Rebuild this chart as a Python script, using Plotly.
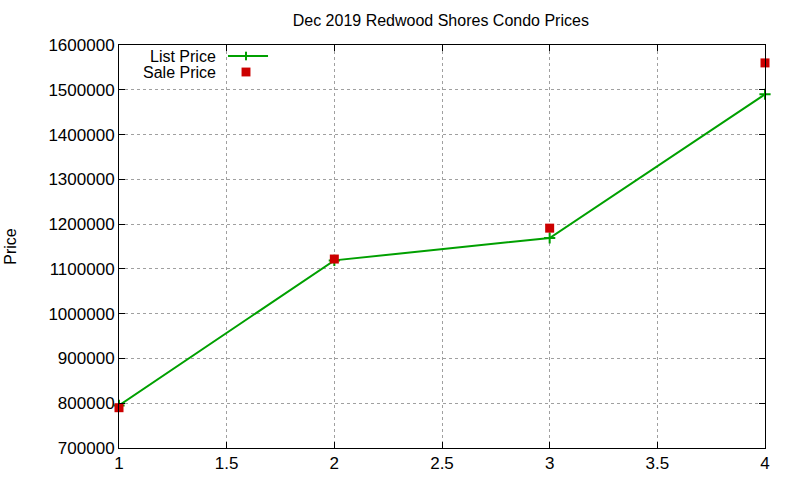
import plotly.graph_objects as go

# Dec 2019 Redwood Shores condos
units = [1, 2, 3, 4]
list_price = [795000, 1119000, 1169000, 1490000]
sale_price = [790000, 1122000, 1191000, 1560000]

x_ticks = [1, 1.5, 2, 2.5, 3, 3.5, 4]
y_ticks = list(range(700000, 1600001, 100000))

green = "#00a000"
red = "#cc0000"
font = "Liberation Sans, Arial, sans-serif"

fig = go.Figure()
fig.add_trace(go.Scatter(x=units, y=list_price, mode="lines+markers", name="List Price",
                         line=dict(color=green, width=2),
                         marker=dict(symbol="cross-thin", size=8, line=dict(color=green, width=2)),
                         cliponaxis=False, showlegend=False))
fig.add_trace(go.Scatter(x=units, y=sale_price, mode="markers", name="Sale Price",
                         marker=dict(symbol="square", size=9, color=red),
                         cliponaxis=False, showlegend=False))

axis = dict(showline=True, linecolor="black", linewidth=1, mirror="ticks",
            ticks="inside", ticklen=6, tickcolor="black",
            showgrid=True, gridcolor="#a0a0a0", griddash="dot", gridwidth=1,
            zeroline=False, automargin=False, tickfont=dict(size=17, color="black"))

fig.update_xaxes(range=[1, 4], tickvals=x_ticks, ticktext=[f"{v:g}" for v in x_ticks], **axis)
fig.update_yaxes(range=[700000, 1600000], tickvals=y_ticks, ticktext=[str(v) for v in y_ticks], **axis)

# gnuplot style key: text on the left, sample on the right
fig.add_annotation(xref="paper", yref="paper", x=0.1533, y=0.9727, text="List Price",
                   showarrow=False, xanchor="right", yanchor="middle", font=dict(size=16))
fig.add_annotation(xref="paper", yref="paper", x=0.1533, y=0.933, text="Sale Price",
                   showarrow=False, xanchor="right", yanchor="middle", font=dict(size=16))
fig.add_shape(type="line", xref="paper", yref="paper", x0=0.1687, x1=0.2307, y0=0.9727, y1=0.9727,
              line=dict(color=green, width=2))
fig.add_shape(type="line", xref="paper", yref="paper", x0=0.1966, x1=0.1966, y0=0.962, y1=0.9834,
              line=dict(color=green, width=2))
fig.add_shape(type="rect", xref="paper", yref="paper", x0=0.1897, x1=0.2035, y0=0.922, y1=0.944,
              line=dict(width=0), fillcolor=red)

fig.add_annotation(xref="paper", yref="paper", x=-0.1672, y=0.502, text="Price", textangle=-90,
                   showarrow=False, xanchor="center", yanchor="middle", font=dict(size=16))

fig.update_layout(
    width=800, height=480,
    margin=dict(l=119, r=35, t=45, b=32),
    paper_bgcolor="white", plot_bgcolor="white",
    font=dict(family=font, size=16, color="black"),
    title=dict(text="Dec 2019 Redwood Shores Condo Prices", x=0.551, xanchor="center",
               y=0.9583, yanchor="middle", font=dict(size=16)),
)

# drop the page's default body margin so the figure sits at the window corner
fig.write_html("out.html", config={"displayModeBar": False},
               post_script="document.body.style.margin = '0';")
